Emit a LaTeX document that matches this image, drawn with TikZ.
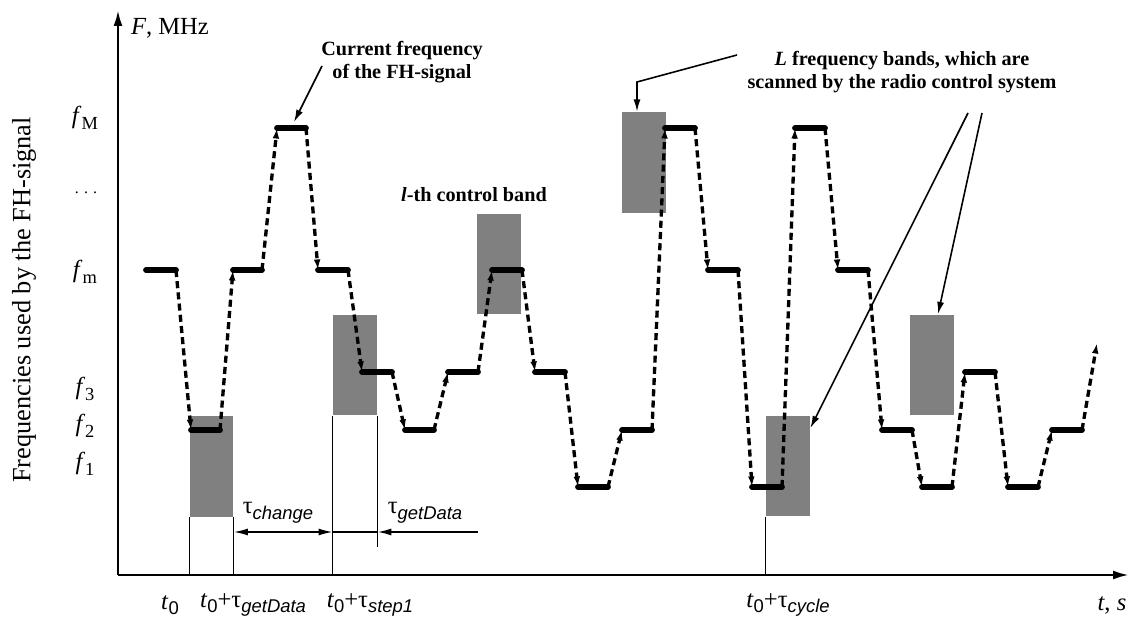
\documentclass[tikz,border=0pt]{standalone}
\usepackage{fontspec}
\setmainfont{Liberation Serif}
\newfontfamily\subsf{Liberation Sans}
\usetikzlibrary{arrows.meta}
\newcommand{\lsub}[1]{\raisebox{-0.5ex}{\fontsize{10.5}{10.5}\selectfont #1}}
\newcommand{\tauof}[1]{τ\lsub{\subsf\itshape #1}}
\newcommand{\tnull}{\textit{t}\lsub{\subsf 0}}

\begin{document}
\begin{tikzpicture}
  [x=0.02cm, y=-0.02cm,
   axis/.style={line width=1.4pt, -{Latex[length=9pt,width=5pt]}},
   plateau/.style={line width=3.3pt, line cap=round},
   hop/.style={line width=1.9pt, dash pattern=on 4pt off 2.4pt, -{Latex[length=6pt,width=3.8pt]}},
   band/.style={fill=gray, minimum width=0.88cm, minimum height=2.02cm, inner sep=0pt},
   thin/.style={line width=0.6pt},
   note/.style={font=\fontsize{11.5}{13}\selectfont\bfseries, align=center},
   tick/.style={font=\fontsize{14}{16}\selectfont, inner sep=1pt},
   pointer/.style={line width=0.9pt, -{Latex[length=7pt,width=4pt]}}]
  \useasboundingbox (0,0) rectangle (1130,617);
  \coordinate (O) at (118,575);
  \coordinate (ytip) at (118,10);
  \coordinate (xtip) at (1129,575);
  \coordinate (dim) at (0,532);

  \node[band] (b1) at (211.5,466.5) {};
  \node[band] (b2) at (355,365) {};
  \node[band] (b3) at (499,264) {};
  \node[band] (b4) at (643.5,162.5) {};
  \node[band] (b5) at (788,466) {};
  \node[band] (b6) at (932,365) {};

  \draw[axis] (O) -- (ytip);
  \draw[axis] (O) -- (xtip);

  \draw[thin] (b1.south west) -- (b1.south west |- O);
  \draw[thin] (b1.south east) -- (b1.south east |- O);
  \draw[thin] (b2.south west) -- (b2.south west |- O);
  \draw[thin] (b2.south east) -- (b2.south east |- 0,547);
  \draw[thin] (b5.south west) -- (b5.south west |- O);

  \draw[line width=0.9pt, {Latex[length=8pt,width=4pt]}-{Latex[length=8pt,width=4pt]}]
    (b1.south east |- dim) -- (b2.south west |- dim);
  \draw[thin] (b2.south west |- dim) -- (b2.south east |- dim);
  \coordinate (gdend) at (478,532);
  \draw[line width=1pt, -{Latex[length=8pt,width=4pt]}] (gdend) -- (b2.south east |- dim);

  \foreach \xa/\xb/\lv [count=\i] in {146/176/270, 191/220/430, 233/262/270, 277/306/128,
      318/348/270, 362/392/372, 405/434/430, 448/478/372, 492/522/270, 535/565/372,
      578/608/487, 622/652/430, 665/695/128, 708/738/270, 752/782/487, 795/825/128,
      838/868/270, 882/912/430, 922/952/487, 965/995/372, 1008/1038/487, 1052/1082/430} {
    \coordinate (s\i) at (\xa,\lv);
    \coordinate (e\i) at (\xb,\lv);
  }
  \foreach \i in {1,...,21} {
    \pgfmathtruncatemacro\j{\i+1}
    \draw[hop] (e\i) -- (s\j);
  }
  \coordinate (last) at (1097,343);
  \draw[hop] (e22) -- (last);
  \foreach \i in {1,...,22}
    \draw[plateau] (s\i) -- (e\i);

  \node[tick] (Fax) at (170,28) {\textit{F}, MHz};
  \node[rotate=90, font=\fontsize{15}{17}\selectfont] (ylab) at (24,300) {Frequencies used by the FH-signal};
  \node[tick] (fM) at (85,118) {\textit{f}\lsub{M}};
  \node[font=\fontsize{9}{9}\selectfont] (fdots) at (86,193) {. . .};
  \node[tick] (fm) at (85,272) {\textit{f}\lsub{m}};
  \node[tick] (f3) at (85,389) {\textit{f}\lsub{3}};
  \node[tick] (f2) at (85,426) {\textit{f}\lsub{2}};
  \node[tick] (f1) at (85,464) {\textit{f}\lsub{1}};

  \node[tick] (t0) at (170,605) {\tnull};
  \node[tick] (tgd) at (253,605) {\tnull+\tauof{getData}};
  \node[tick] (tst) at (370,605) {\tnull+\tauof{step1}};
  \node[tick] (tcy) at (788,605) {\tnull+\tauof{cycle}};
  \node[tick] (tax) at (1112,605) {\textit{t}, \textit{s}};
  \node[tick] (tch) at (278,513) {\tauof{change}};
  \node[tick] (tgt) at (425,513) {\tauof{getData}};

  \node[note] (cur) at (402,62) {Current frequency\\of the FH-signal};
  \node[note] (lth) at (474,195) {\textit{l}-th control band};
  \node[note] (Lb) at (902,72) {\textit{L} frequency bands, which are\\scanned by the radio control system};

  \coordinate (c1) at (322,66);
  \coordinate (c2) at (294,122);
  \draw[pointer] (c1) -- (c2);
  \coordinate (l1) at (737,55);
  \coordinate (l2) at (637,82);
  \draw[pointer] (l1) -- (l2) -- (l2 |- b4.north);
  \coordinate (l3) at (968,113);
  \coordinate (l4) at (982,113);
  \draw[pointer] (l3) -- ([yshift=-0.26cm]b5.north east);
  \draw[pointer] (l4) -- ([xshift=0.12cm]b6.north);
\end{tikzpicture}
\end{document}
